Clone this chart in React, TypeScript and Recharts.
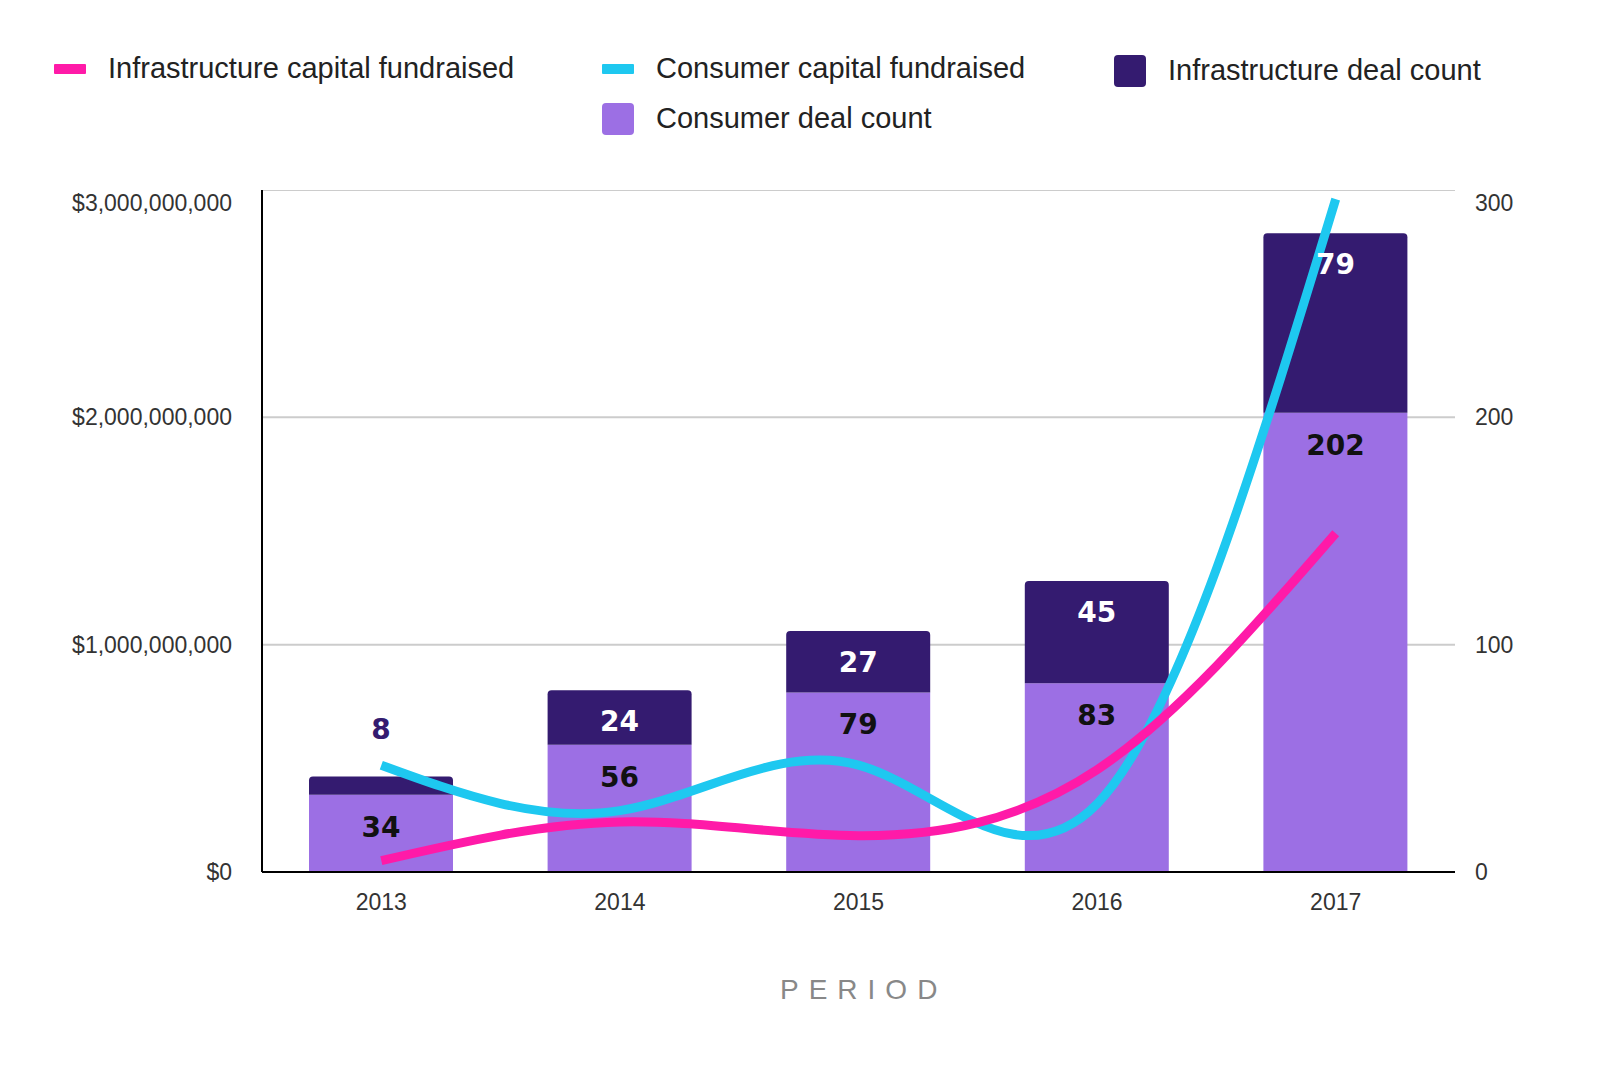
import React from "react";
import { ComposedChart, Bar, Line, XAxis, YAxis, CartesianGrid, LabelList } from "recharts";

const years = ["2013", "2014", "2015", "2016", "2017"];
const infraCapital = [50000000, 220000000, 160000000, 450000000, 1490000000];
const consumerCapital = [470000000, 270000000, 470000000, 300000000, 2960000000];
const consumerCount = [34, 56, 79, 83, 202];
const infraCount = [8, 24, 27, 45, 79];
const leftTicks = [0, 1000000000, 2000000000, 3000000000];
const rightTicks = [0, 100, 200, 300];

const data = years.map((y, i) => ({
  year: y,
  infraCapital: infraCapital[i],
  consumerCapital: consumerCapital[i],
  consumerCount: consumerCount[i],
  infraCount: infraCount[i],
}));

const fmtMoney = (v: number) => "$" + v.toLocaleString("en-US");
const FONT = "'Liberation Sans', Arial, sans-serif";
const LFONT = "'DejaVu Sans', sans-serif";

const ConsumerLabel = (p: any) => {
  const { x, y, width, value } = p;
  return (
    <text x={x + width / 2} y={y + 42} textAnchor="middle" fontFamily={LFONT} fontWeight="bold" fontSize={28} fill="#111">
      {value}
    </text>
  );
};
const InfraLabel = (p: any) => {
  const { x, y, width, height, value } = p;
  const small = height < 40;
  return (
    <text x={x + width / 2} y={small ? y - 38 : y + 41} textAnchor="middle" fontFamily={LFONT} fontWeight="bold" fontSize={28} fill={small ? "#341b70" : "#fff"}>
      {value}
    </text>
  );
};

const LegendItem = ({ color, label, kind, left, top }: any) => (
  <div style={{ position: "absolute", left, top, display: "flex", alignItems: "center", fontFamily: FONT, fontSize: 29, color: "#222" }}>
    <div style={{ width: 32, height: kind === "line" ? 10 : 32, background: color, borderRadius: kind === "line" ? 1 : 4, marginRight: 22 }} />
    {label}
  </div>
);

export default function App() {
  return (
    <div style={{ position: "relative", width: 1584, height: 1060 }}>
      <LegendItem color="#ff1aa8" label="Infrastructure capital fundraised" kind="line" left={46} top={44} />
      <LegendItem color="#1ec8f0" label="Consumer capital fundraised" kind="line" left={594} top={44} />
      <LegendItem color="#341b70" label="Infrastructure deal count" kind="box" left={1106} top={46} />
      <LegendItem color="#9c6fe4" label="Consumer deal count" kind="box" left={594} top={94} />
      <div style={{ position: "absolute", top: 182, left: 0 }}>
        <ComposedChart width={1584} height={870} data={data} margin={{ top: 0, right: 0, bottom: 8, left: 0 }}>
          <CartesianGrid vertical={false} stroke="#cccccc" strokeWidth={2} yAxisId="left" />
          <XAxis dataKey="year" tickLine={false} axisLine={{ stroke: "#000", strokeWidth: 2 }} tick={{ fontFamily: FONT, fontSize: 23, fill: "#333" }} tickMargin={16} height={180} />
          <YAxis yAxisId="left" domain={[0, 3000000000]} ticks={leftTicks} tickFormatter={fmtMoney} width={254} tickLine={false} axisLine={{ stroke: "#000", strokeWidth: 2 }} tick={{ fontFamily: FONT, fontSize: 23, fill: "#333" }} tickMargin={24} />
          <YAxis yAxisId="right" orientation="right" domain={[0, 300]} ticks={rightTicks} width={137} tickLine={false} axisLine={false} tick={{ fontFamily: FONT, fontSize: 23, fill: "#333" }} tickMargin={14} />
          <Bar yAxisId="right" dataKey="consumerCount" stackId="a" fill="#9c6fe4" barSize={144} isAnimationActive={false}>
            <LabelList dataKey="consumerCount" content={ConsumerLabel} />
          </Bar>
          <Bar yAxisId="right" dataKey="infraCount" stackId="a" fill="#341b70" barSize={144} radius={[4, 4, 0, 0]} isAnimationActive={false}>
            <LabelList dataKey="infraCount" content={InfraLabel} />
          </Bar>
          <Line yAxisId="left" type="natural" dataKey="consumerCapital" stroke="#1ec8f0" strokeWidth={9} dot={false} isAnimationActive={false} />
          <Line yAxisId="left" type="natural" dataKey="infraCapital" stroke="#ff1aa8" strokeWidth={9} dot={false} isAnimationActive={false} />
        </ComposedChart>
      </div>
      <div style={{ position: "absolute", top: 966, left: 772, fontFamily: FONT, fontSize: 28, letterSpacing: 10, color: "#888" }}>PERIOD</div>
    </div>
  );
}
